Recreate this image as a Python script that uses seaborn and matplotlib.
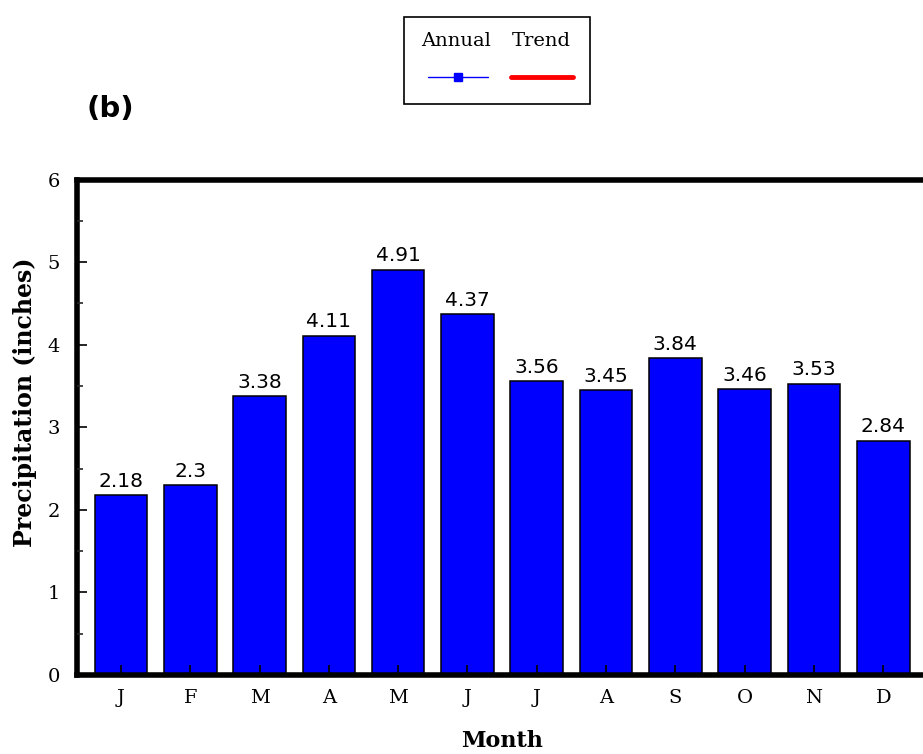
import pandas as pd
import matplotlib.pyplot as plt
import seaborn as sns
from matplotlib.lines import Line2D
from matplotlib.patches import Rectangle

months = ['Jan', 'Feb', 'Mar', 'Apr', 'May', 'Jun', 'Jul', 'Aug', 'Sep', 'Oct', 'Nov', 'Dec']
month_labels = ['J', 'F', 'M', 'A', 'M', 'J', 'J', 'A', 'S', 'O', 'N', 'D']
precip = [2.18, 2.3, 3.38, 4.11, 4.91, 4.37, 3.56, 3.45, 3.84, 3.46, 3.53, 2.84]

data = pd.DataFrame({'Month': months, 'Precipitation': precip})

sns.set_style('white')
plt.rcParams['font.family'] = ['DejaVu Serif']
plt.rcParams['text.color'] = 'black'
plt.rcParams['axes.labelcolor'] = 'black'

fig = plt.figure(figsize=(9.23, 7.54), dpi=100)
ax = fig.add_axes([0.083, 0.1048, 0.922, 0.657])

sns.barplot(x='Month', y='Precipitation', data=data, color='#0000ff', saturation=1,
            width=0.76, edgecolor='black', linewidth=1.1, ax=ax)
ax.set_axisbelow(False)

ax.bar_label(ax.containers[0], labels=[f'{v:g}' for v in precip], padding=3,
             fontsize=14.5, family='DejaVu Sans', color='black')

ax.set_xlim(-0.64, 11.64)
ax.set_ylim(0, 6)
ax.set_yticks(range(0, 7))
ax.set_yticks([0.5 + i for i in range(6)], minor=True)
ax.set_xticks(range(len(months)))
ax.set_xticklabels(month_labels)
ax.tick_params(axis='both', which='major', direction='in', length=7, width=1.2,
               labelsize=14, colors='black')
ax.tick_params(axis='x', pad=10, bottom=True)
ax.tick_params(axis='y', pad=12, left=True)
ax.tick_params(axis='y', which='minor', direction='in', length=4, width=1.2, left=True)

for side in ['left', 'bottom', 'top', 'right']:
    ax.spines[side].set_linewidth(4)
    ax.spines[side].set_color('black')

ax.set_xlabel('Month', fontsize=16, fontweight='bold', labelpad=17)
ax.set_ylabel('Precipitation (inches)', fontsize=17, fontweight='bold')
ax.yaxis.set_label_coords(-0.047, 0.55)

fig.text(0.094, 0.855, '(b)', fontsize=21, fontweight='bold', family='DejaVu Sans',
         va='center')

# legend box (text above handles)
fig.patches.append(Rectangle((0.4375, 0.862), 0.2015, 0.115, transform=fig.transFigure,
                             fill=False, edgecolor='black', linewidth=1.2))
fig.text(0.494, 0.946, 'Annual', fontsize=14, ha='center', va='center')
fig.text(0.586, 0.946, 'Trend', fontsize=14, ha='center', va='center')
fig.lines.append(Line2D([0.464, 0.4965, 0.529], [0.898, 0.898, 0.898],
                        transform=fig.transFigure, color='blue', linewidth=1,
                        marker='s', markersize=6, markevery=[1]))
fig.lines.append(Line2D([0.5535, 0.6205], [0.898, 0.898], transform=fig.transFigure,
                        color='red', linewidth=3.5, solid_capstyle='round'))

fig.savefig('out.png', dpi=100)
